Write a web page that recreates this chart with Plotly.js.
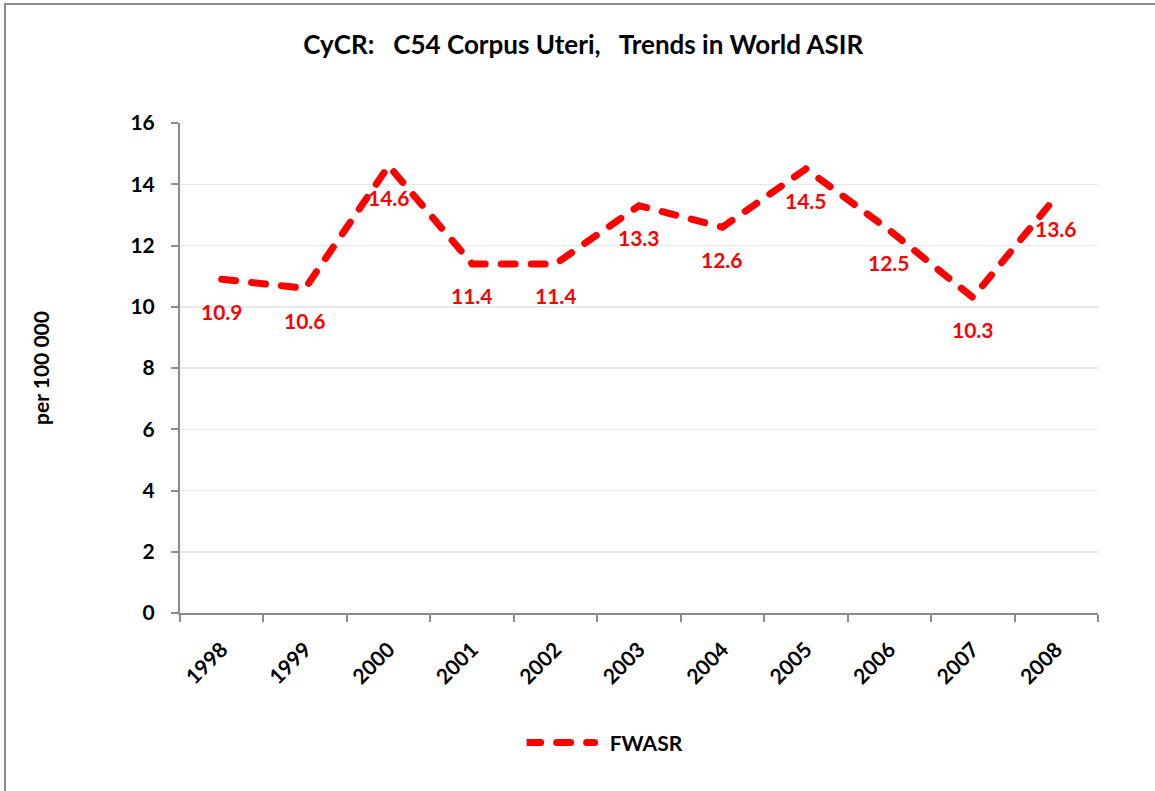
<!DOCTYPE html>
<html>
<head>
<meta charset="utf-8">
<script src="https://cdn.plot.ly/plotly-3.0.1.min.js"></script>
<style>
  html, body { margin: 0; padding: 0; background: #fff; overflow: hidden; }
  #wrap { position: relative; width: 1155px; height: 791px; }
  #frame { position: absolute; left: 4px; top: 3px; width: 1300px; height: 1000px;
           border: 2px solid #8c8c8c; box-sizing: border-box; pointer-events: none; z-index: 5; }
  #chart { position: absolute; left: 0; top: 0; width: 1155px; height: 791px; }
</style>
</head>
<body>
<div id="wrap">
  <div id="chart"></div>
  <div id="frame"></div>
</div>
<script>
const years = ['1998','1999','2000','2001','2002','2003','2004','2005','2006','2007','2008'];
const fwasr = [10.9, 10.6, 14.6, 11.4, 11.4, 13.3, 12.6, 14.5, 12.5, 10.3, 13.6];
const seriesName = 'FWASR';
const titleText = 'CyCR:&nbsp;&nbsp;&nbsp;C54 Corpus Uteri,&nbsp;&nbsp;&nbsp;Trends in World ASIR';
const yTitle = 'per 100 000';
const yTicks = [0, 2, 4, 6, 8, 10, 12, 14, 16];

const FONT = 'Lato, "Open Sans", sans-serif';
const RED = '#ff0000';
const DASH = '14px,16px';

const trace = {
  x: years,
  y: fwasr,
  name: seriesName,
  type: 'scatter',
  mode: 'lines',
  line: { color: RED, width: 7, dash: DASH },
  hoverinfo: 'x+y'
};

const annotations = years.map((yr, i) => ({
  x: i, y: fwasr[i], xref: 'x', yref: 'y',
  text: fwasr[i].toFixed(1),
  showarrow: false,
  yshift: -32,
  font: { family: FONT, size: 21, color: RED, weight: 'bold' }
}));

const layout = {
  width: 1155, height: 791,
  margin: { l: 180, r: 57, t: 123, b: 178 },
  paper_bgcolor: '#ffffff',
  plot_bgcolor: '#ffffff',
  font: { family: FONT, size: 21, color: '#000', weight: 'bold' },
  title: {
    text: titleText,
    x: 0.505, xanchor: 'center',
    y: 0.943, yanchor: 'middle',
    font: { family: FONT, size: 26, color: '#000', weight: 'bold' }
  },
  xaxis: {
    type: 'category',
    range: [-0.5, 10.5],
    tickangle: -45,
    ticks: 'outside', ticklen: 7, tickwidth: 2, tickcolor: '#8c8c8c',
    tickson: 'boundaries',
    showline: true, linecolor: '#8c8c8c', linewidth: 2,
    showgrid: false, zeroline: false,
    tickfont: { family: FONT, size: 21, color: '#000', weight: 'bold' },
    ticklabelstandoff: 14,
    fixedrange: true
  },
  yaxis: {
    range: [0, 16],
    tickvals: yTicks,
    ticktext: yTicks.map(String),
    ticks: 'outside', ticklen: 7, tickwidth: 2, tickcolor: '#8c8c8c',
    showline: true, linecolor: '#8c8c8c', linewidth: 2,
    showgrid: true, gridcolor: '#e8e8e8', gridwidth: 1.5,
    zeroline: false,
    tickfont: { family: FONT, size: 21, color: '#000', weight: 'bold' },
    ticklabelstandoff: 12,
    title: { text: yTitle, standoff: 75,
             font: { family: FONT, size: 21, color: '#000', weight: 'bold' } },
    fixedrange: true
  },
  showlegend: true,
  legend: {
    orientation: 'h',
    x: 0.3776, xanchor: 'left',
    y: -0.265, yanchor: 'middle',
    font: { family: FONT, size: 21, color: '#000', weight: 'bold' },
    itemwidth: 73
  },
  annotations: annotations
};

Plotly.newPlot('chart', [trace], layout, { displayModeBar: false, staticPlot: true }).then(() => {
  document.querySelectorAll('.scatterlayer path.js-line').forEach(p => {
    p.style.strokeLinecap = 'round';
  });
  document.querySelectorAll('.legend path.js-line').forEach(p => {
    p.setAttribute('d', 'M0,0h68');
    p.style.strokeLinecap = 'round';
  });
});
</script>
</body>
</html>
